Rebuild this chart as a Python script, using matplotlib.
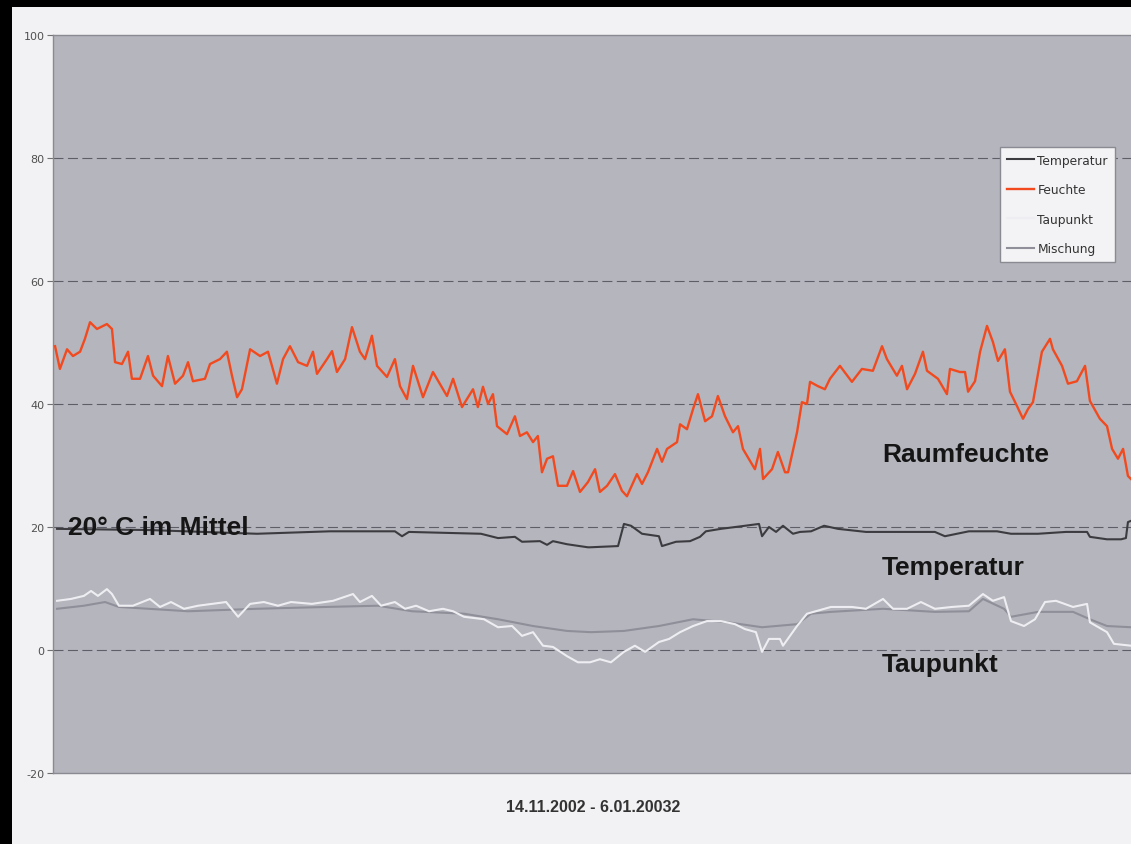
import matplotlib.pyplot as plt
from matplotlib.patches import Rectangle

plt.rcParams["axes.unicode_minus"] = False

# Zeitachse in Tagen ab 14.11.2002
feuchte_t = [0.10, 0.34, 0.69, 0.98, 1.33, 1.57, 1.82, 2.16, 2.65, 2.90, 3.05, 3.39, 3.69, 3.88,
             4.28, 4.67, 4.92, 5.36, 5.65, 6.00, 6.39, 6.64, 6.88, 7.47, 7.72, 8.21, 8.55, 8.80,
             9.05, 9.29, 9.69, 10.18, 10.57, 11.01, 11.31, 11.65, 12.05, 12.49, 12.78, 12.98,
             13.47, 13.72, 13.96, 14.36, 14.70, 15.09, 15.34, 15.68, 15.93, 16.42, 16.81, 17.06,
             17.40, 17.70, 18.19, 18.68, 19.37, 19.67, 20.11, 20.65, 20.89, 21.14, 21.39, 21.63,
             21.83, 22.32, 22.71, 22.96, 23.30, 23.60, 23.84, 24.04, 24.29, 24.58, 24.83, 25.27,
             25.57, 25.91, 26.30, 26.65, 26.89, 27.24, 27.63, 27.97, 28.22, 28.71, 28.96, 29.25,
             29.70, 29.94, 30.19, 30.68, 30.83, 31.17, 31.47, 31.71, 32.06, 32.40, 32.69, 33.04,
             33.43, 33.68, 33.92, 34.51, 34.76, 34.91, 35.35, 35.64, 35.99, 36.14, 36.58, 36.82,
             37.07, 37.22, 37.61, 37.95, 38.20, 38.69, 39.28, 39.77, 40.31, 40.76, 41.00, 41.49,
             41.74, 41.99, 42.38, 42.77, 42.97, 43.51, 43.95, 44.10, 44.59, 44.84, 44.99, 45.33,
             45.58, 45.92, 46.21, 46.46, 46.80, 47.05, 47.39, 47.69, 47.94, 48.18, 48.62, 49.02,
             49.16, 49.61, 49.90, 50.34, 50.74, 50.98, 51.47, 51.82, 52.07, 52.36, 52.61, 52.85,
             53.00]
feuchte = [49.4, 45.7, 48.9, 47.8, 48.5, 50.6, 53.3, 52.2, 53.0, 52.2, 46.8, 46.5, 48.5, 44.1,
           44.1, 47.8, 44.6, 42.9, 47.8, 43.3, 44.6, 46.8, 43.7, 44.1, 46.5, 47.3, 48.5, 44.6,
           41.1, 42.4, 48.9, 47.8, 48.5, 43.3, 47.3, 49.4, 46.8, 46.2, 48.5, 44.9,
           47.3, 48.6, 45.2, 47.3, 52.5, 48.5, 47.3, 51.1, 46.2, 44.4, 47.3, 42.9,
           40.8, 46.2, 41.1, 45.2, 41.3, 44.1, 39.5, 42.4, 39.5, 42.8, 40.0, 41.6,
           36.4, 35.1, 38.0, 34.8, 35.4, 33.8, 34.8, 28.9, 31.1, 31.5, 26.7, 26.7,
           29.1, 25.7, 27.3, 29.4, 25.7, 26.7, 28.6, 25.9, 25.0, 28.6, 27.0, 28.9,
           32.7, 30.6, 32.7, 33.8, 36.7, 35.9, 39.2, 41.6, 37.2, 38.0, 41.3, 38.0,
           35.4, 36.4, 32.7, 29.4, 32.7, 27.8, 29.4, 32.2, 28.9, 28.9, 35.4, 40.3,
           40.0, 43.6, 42.9, 42.4, 44.1, 46.2, 43.6, 45.7, 45.4, 49.4, 47.3, 44.6,
           46.2, 42.4, 44.9, 48.5, 45.4, 44.1, 41.6, 45.7, 45.2, 45.2, 42.0, 43.7,
           48.5, 52.7, 50.1, 47.0, 48.9, 42.0, 39.7, 37.6, 39.2, 40.3, 48.5, 50.6,
           48.9, 46.2, 43.3, 43.7, 46.2, 40.5, 37.6, 36.4, 32.7, 31.1, 32.7, 28.3,
           27.8]

temp_t = [0.2, 4.77, 10.03, 13.62, 16.81, 17.16, 17.5, 21.04, 21.88, 22.71, 23.06, 23.94, 24.29,
          24.58, 25.27, 26.3, 26.4, 27.78, 28.07, 28.42, 28.96, 29.79, 29.94, 30.63, 31.32,
          31.81, 32.1, 32.84, 34.02, 34.71, 34.86, 35.2, 35.55, 35.89, 36.38, 36.73, 37.27,
          37.91, 38.59, 39.97, 41.64, 43.36, 43.85, 45.03, 46.41, 47.1, 48.43, 49.8, 50.84,
          50.98, 51.82, 52.51, 52.75, 52.85, 53.0]
temperatur = [19.7, 19.5, 18.9, 19.3, 19.3, 18.5, 19.2, 18.9, 18.2, 18.4, 17.6, 17.7, 17.1,
              17.7, 17.2, 16.7, 16.7, 16.9, 20.5, 20.2, 18.9, 18.5, 16.9, 17.6, 17.7,
              18.4, 19.3, 19.7, 20.2, 20.5, 18.5, 20.0, 19.2, 20.2, 18.9, 19.2, 19.3,
              20.2, 19.7, 19.2, 19.2, 19.2, 18.5, 19.3, 19.3, 18.9, 18.9, 19.2, 19.2,
              18.4, 18.0, 18.0, 18.2, 20.8, 21.0]

tau_t = [0.2, 0.88, 1.52, 1.87, 2.21, 2.65, 2.9, 3.24, 3.93, 4.77, 5.26, 5.8, 6.44, 7.13,
         7.82, 8.51, 9.1, 9.69, 10.37, 11.06, 11.7, 12.73, 13.77, 14.75, 15.09, 15.68, 16.13,
         16.81, 17.31, 17.85, 18.49, 19.17, 19.67, 20.21, 21.19, 21.88, 22.57, 23.06, 23.6,
         24.09, 24.58, 25.27, 25.81, 26.4, 26.89, 27.43, 28.07, 28.61, 29.11, 29.79, 30.29,
         30.83, 31.47, 32.15, 32.84, 33.53, 34.02, 34.56, 34.86, 35.2, 35.74, 35.89, 36.58,
         37.07, 38.25, 39.28, 39.97, 40.81, 41.3, 41.99, 42.67, 43.36, 44.2, 45.03, 45.72,
         46.21, 46.76, 47.1, 47.74, 48.28, 48.77, 49.31, 50.15, 50.84, 50.98, 51.82, 52.16,
         53.0]
taupunkt = [8.0, 8.3, 8.8, 9.6, 8.8, 9.9, 9.1, 7.2, 7.2, 8.3, 7.0, 7.8, 6.7, 7.2,
            7.5, 7.8, 5.4, 7.5, 7.8, 7.2, 7.8, 7.5, 8.0, 9.1, 7.8, 8.8, 7.2,
            7.8, 6.7, 7.2, 6.3, 6.7, 6.3, 5.4, 5.0, 3.7, 3.9, 2.3, 2.9,
            0.7, 0.5, -1.0, -2.0, -2.0, -1.5, -2.0, -0.3, 0.7, -0.3, 1.3, 1.8,
            2.9, 3.9, 4.7, 4.7, 4.2, 3.4, 2.9, -0.3, 1.8, 1.8, 0.7, 3.9,
            5.9, 7.0, 7.0, 6.7, 8.3, 6.7, 6.7, 7.8, 6.7, 7.0, 7.2, 9.1,
            8.0, 8.6, 4.7, 3.9, 5.0, 7.8, 8.0, 7.0, 7.5, 4.5, 2.9, 1.0,
            0.7]

misch_t = [0.2, 1.52, 2.56, 3.24, 6.64, 10.03, 13.42, 15.98, 17.65, 20.21, 21.88, 23.6, 25.27,
           26.45, 28.07, 29.79, 31.47, 33.19, 34.86, 36.58, 37.27, 38.25, 40.81, 43.36, 45.03,
           45.72, 46.76, 47.1, 48.43, 50.15, 50.98, 51.82, 53.0]
mischung = [6.7, 7.2, 7.8, 7.0, 6.3, 6.7, 7.0, 7.2, 6.3, 5.9, 5.0, 3.9, 3.1,
            2.9, 3.1, 3.9, 5.0, 4.5, 3.7, 4.2, 5.9, 6.2, 6.7, 6.2, 6.3,
            8.3, 6.7, 5.4, 6.2, 6.2, 5.0, 3.9, 3.7]

y_ticks = [-20, 0, 20, 40, 60, 80, 100]

fig = plt.figure(figsize=(11.31, 8.45), dpi=100, facecolor="black")
# heller Rand um das Diagramm (Scan), hinter den Achsen
fig.patches.append(Rectangle((12 / 1131, 0), 1, 1 - 8 / 845, transform=fig.transFigure,
                             facecolor="#f2f2f4", edgecolor="none", zorder=-10))

ax = fig.add_axes([53 / 1131, 1 - 774 / 845, 1 - 53 / 1131, (774 - 36) / 845])
ax.set_facecolor("#b4b5bd")

for y in [0, 20, 40, 60, 80]:
    ax.axhline(y, color="#5e5e68", linestyle=(0, (9, 4)), linewidth=0.8, zorder=1)

ax.plot(feuchte_t, feuchte, color="#f24a1e", linewidth=1.7, label="Feuchte", zorder=3)
ax.plot(temp_t, temperatur, color="#3c3c40", linewidth=1.5, label="Temperatur", zorder=3)
ax.plot(misch_t, mischung, color="#8e8f98", linewidth=1.5, label="Mischung", zorder=3)
ax.plot(tau_t, taupunkt, color="#eeeef2", linewidth=1.5, label="Taupunkt", zorder=4)

ax.set_xlim(0, 53)
ax.set_ylim(-20, 100)
ax.set_xticks([])
ax.set_yticks(y_ticks)
ax.tick_params(axis="y", length=4, width=0.8, color="#707070", labelsize=8, labelcolor="#505050", pad=2)
for s in ["left", "bottom", "top"]:
    ax.spines[s].set_color("#8a8a92")
    ax.spines[s].set_linewidth(1.0)
ax.spines["right"].set_visible(False)

# Legende in Reihenfolge wie im Original
h = {l.get_label(): l for l in ax.get_lines()}
order = ["Temperatur", "Feuchte", "Taupunkt", "Mischung"]
leg = fig.legend([h[k] for k in order], order, loc="upper left",
                 bbox_to_anchor=(1000 / 1131, 1 - 148 / 845), fontsize=8.8,
                 handlelength=2.2, handletextpad=0.3, labelspacing=1.35,
                 borderpad=0.55, borderaxespad=0, fancybox=False, framealpha=1)
leg.set_zorder(10)
leg.get_frame().set_facecolor("#f3f3f5")
leg.get_frame().set_edgecolor("#8a8a92")
for t in leg.get_texts():
    t.set_color("#333333")

bold = dict(fontfamily="Liberation Sans", fontweight="bold", color="#151515", fontsize=19)
ax.text(0.74, 20.0, "20° C im Mittel", va="center", ha="left", zorder=5, **bold)
ax.text(40.75, 31.8, "Raumfeuchte", va="center", ha="left", zorder=5, **bold)
ax.text(40.75, 13.5, "Temperatur", va="center", ha="left", zorder=5, **bold)
ax.text(40.75, -2.2, "Taupunkt", va="center", ha="left", zorder=5, **bold)

fig.text(593 / 1131, 1 - 808 / 845, "14.11.2002 - 6.01.20032", ha="center", va="center",
         fontfamily="Liberation Sans", fontweight="bold", fontsize=11.5, color="#333333")

fig.savefig("out.png", dpi=100, facecolor=fig.get_facecolor())
